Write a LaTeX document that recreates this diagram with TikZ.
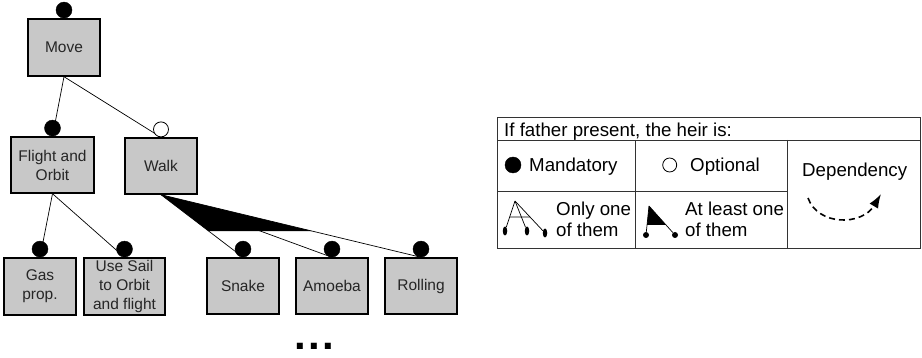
\documentclass[tikz,border=0pt]{standalone}
\usepackage{fontspec}
\setmainfont{Liberation Sans}
\usetikzlibrary{arrows.meta,calc,shapes.geometric}

\definecolor{featgray}{RGB}{200,200,200}

\begin{document}
\begin{tikzpicture}[
    x=1pt, y=-1pt,
    feat/.style={draw, line width=1.4pt, fill=featgray, minimum width=72pt,
                 minimum height=57pt, align=center, inner sep=1pt, text=black!85,
                 font=\fontsize{15.5}{19}\selectfont},
    mand/.style={circle, draw, fill=black, minimum size=16pt, inner sep=0pt},
    opt/.style={circle, draw, fill=white, line width=0.8pt, minimum size=15pt, inner sep=0pt},
    link/.style={line width=0.7pt},
    legend/.style={font=\fontsize{18.7}{21.7}\selectfont, inner sep=0pt, align=left},
    grid/.style={line width=0.9pt, draw=black!80},
    pin/.style={ellipse, fill=black, minimum width=4.5pt, minimum height=9pt, inner sep=0pt},
    knob/.style={circle, fill=black, minimum size=6pt, inner sep=0pt}
]
    \useasboundingbox (0,0) rectangle (922,358);

    % feature tree
    \node[feat] (move) at (64,47.5) {Move};
    \node[feat, minimum width=83pt, minimum height=56pt] (flight) at (52.5,165) {Flight and\\Orbit};
    \node[feat, minimum height=56pt] (walk) at (161,166) {Walk};

    \node[feat] (gas) at (40,286.5) {Gas\\prop.};
    \node[feat, minimum width=81pt] (sail) at (124.5,286.5) {Use Sail\\to Orbit\\and flight};
    \node[feat, minimum height=56pt] (snake) at (243,286) {Snake};
    \node[feat, minimum height=56pt] (amoeba) at (332,286) {Amoeba};
    \node[feat, minimum height=56pt] (rolling) at (421,286) {Rolling};

    \draw[link] (move.south) -- (flight.north);
    \draw[link] (move.south) -- (walk.north);
    \draw[link] (flight.south) -- (gas.north);
    \draw[link] (flight.south) -- (sail.north);
    \draw[link] (walk.south) -- (snake.north);
    \draw[link] (walk.south) -- (amoeba.north);
    \draw[link] (walk.south) -- (rolling.north);
    \fill (walk.south) -- ($(walk.south)!0.58!(snake.north)$)
        -- ($(walk.south)!0.58!(rolling.north)$) -- cycle;

    \node[mand, anchor=south] (move-c) at (move.north) {};
    \node[mand, anchor=south] (flight-c) at (flight.north) {};
    \node[opt, anchor=south] (walk-c) at (walk.north) {};
    \node[mand, anchor=south] (gas-c) at (gas.north) {};
    \node[mand, anchor=south] (sail-c) at (sail.north) {};
    \node[mand, anchor=south] (snake-c) at (snake.north) {};
    \node[mand, anchor=south] (amoeba-c) at (amoeba.north) {};
    \node[mand, anchor=south] (rolling-c) at (rolling.north) {};

    \node[font=\fontsize{42}{44}\selectfont\bfseries, inner sep=0pt, anchor=base]
        (more) at (314,349.5) {.\kern2.3pt.\kern2.3pt.};

    % legend
    \draw[grid] (497,117) rectangle (920,248);
    \draw[grid] (497,140) -- (920,140);
    \draw[grid] (635,140) -- (635,248);
    \draw[grid] (787,140) -- (787,248);
    \draw[grid] (497,191) -- (787,191);

    \node[legend, anchor=base west] (head) at (504,137) {If father present, the heir is:};
    \node[mand] (key-m) at (513,165) {};
    \node[legend, anchor=base west] (key-mand) at (529,172) {Mandatory};
    \node[opt, minimum size=14pt] (key-o) at (669.7,165) {};
    \node[legend, anchor=base west] (key-opt) at (690,172) {Optional};
    \node[legend, anchor=base west] (key-dep) at (802,177) {Dependency};
    \node[legend, anchor=base west] (key-one) at (556,237) {Only one\\of them};
    \node[legend, anchor=base west] (key-any) at (685,237) {At least one\\of them};

    \coordinate (one-top) at (515,201);
    \node[pin] (one-a) at (505,231) {};
    \node[pin] (one-b) at (527,231) {};
    \node[pin] (one-c) at (545,233) {};
    \draw[link] (one-top) -- (one-a);
    \draw[link] (one-top) -- (one-b);
    \draw[link] (one-top) -- (one-c);
    \draw[link] ($(one-top)!0.53!(one-a)$) -- ($(one-top)!0.5!(one-c)$);

    \coordinate (any-top) at (649,206);
    \node[knob] (any-a) at (646,235) {};
    \node[knob] (any-b) at (675,235) {};
    \draw[link] (any-top) -- (any-a);
    \draw[link] (any-top) -- (any-b);
    \fill (any-top) -- ($(any-top)!0.65!(any-a)$) -- ($(any-top)!0.65!(any-b)$) -- cycle;

    \coordinate (dep-from) at (808,198);
    \coordinate (dep-to) at (881,194);
    \draw[line width=1.6pt, dash pattern=on 6pt off 4pt, -{Latex[length=14pt,width=10pt]}]
        (dep-from) .. controls (818,226) and (862,226) .. (dep-to);
\end{tikzpicture}
\end{document}
